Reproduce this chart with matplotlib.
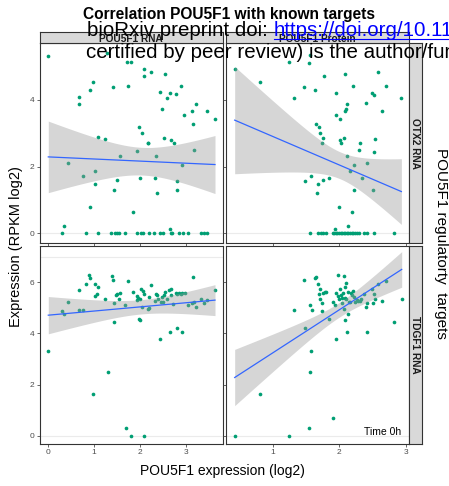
import numpy as np
import matplotlib
matplotlib.use("Agg")
import matplotlib.pyplot as plt
from matplotlib.lines import Line2D

plt.rcParams['font.family'] = ['Liberation Sans', 'DejaVu Sans']

# ---------------- data ----------------
col_labels = ["POU5F1 RNA", "POU5F1 Protein"]
row_labels = ["OTX2 RNA", "TDGF1 RNA"]

# top-left: OTX2 RNA vs POU5F1 RNA
tl_x = [0.0, 0.29, 0.35, 0.44, 0.66, 0.68, 0.75, 0.83, 0.90, 0.92, 0.97, 1.02, 1.03, 1.08, 1.09,
        1.24, 1.29, 1.38, 1.42, 1.43, 1.46, 1.50, 1.50, 1.55, 1.56, 1.67, 1.71, 1.74, 1.81, 1.86,
        1.93, 1.93, 1.98, 2.00, 2.02, 2.06, 2.05, 2.09, 2.09, 2.17, 2.18, 2.19, 2.24, 2.30, 2.34,
        2.36, 2.38, 2.44, 2.44, 2.49, 2.51, 2.52, 2.54, 2.60, 2.65, 2.66, 2.67, 2.70, 2.68, 2.74,
        2.78, 2.81, 2.82, 2.85, 2.90, 2.92, 2.95, 3.05, 2.96, 3.14, 3.17, 3.18, 3.23, 3.34, 3.40,
        3.46, 3.47, 3.64]
tl_y = [5.33, 0.0, 0.23, 2.11, 4.08, 3.88, 1.72, 0.01, 0.78, 4.31, 4.54, 1.88, 1.48, 0.0, 2.88,
        2.82, 5.42, 0.0, 4.39, 1.30, 0.0, 0.0, 1.61, 0.0, 2.32, 0.0, 5.13, 4.42, 5.15, 0.63,
        2.46, 0.0, 3.18, 1.65, 0.0, 0.0, 3.02, 4.92, 4.72, 2.70, 2.70, 0.0, 4.85, 0.0, 1.65,
        2.32, 1.20, 4.23, 0.0, 3.72, 0.0, 2.86, 4.77, 4.05, 4.20, 0.13, 0.0, 0.0, 2.80, 2.71,
        4.17, 1.58, 1.30, 0.0, 4.43, 2.06, 0.0, 0.0, 3.54, 3.67, 3.28, 2.51, 3.89, 0.0, 0.0,
        0.0, 3.67, 3.43]

# top-right: OTX2 RNA vs POU5F1 Protein
tr_x = [0.43, 0.815, 1.24, 1.325, 1.465, 1.485, 1.545, 1.56, 1.575, 1.63, 1.645, 1.66, 1.68,
        1.695, 1.705, 1.735, 1.75, 1.75, 1.775, 1.845, 1.935, 1.945, 1.955, 1.995, 2.01, 2.015,
        2.02, 2.075, 2.08, 2.09, 2.10, 2.11, 2.115, 2.13, 2.16, 2.195, 2.21, 2.215, 2.215, 2.29,
        2.305, 2.335, 2.395, 2.415, 2.485, 2.50, 2.515, 2.515, 2.535, 2.58, 2.64, 2.705, 2.93,
        1.555, 1.685, 1.72, 1.76, 1.80, 1.90, 1.92, 1.945, 1.97, 1.995, 2.02, 2.045, 2.07, 2.09,
        2.11, 2.135, 2.16, 2.185, 2.21, 2.235, 2.26, 2.30, 2.37, 2.41, 2.515, 2.815]
tr_y = [4.92, 4.54, 5.14, 4.07, 4.39, 1.57, 5.12, 5.35, 1.72, 4.30, 3.28, 1.20, 1.48,
        3.18, 3.02, 2.70, 2.86, 1.60, 4.72, 1.65, 0.13, 3.54, 4.22, 0.78, 3.43, 2.80,
        2.70, 2.87, 4.77, 3.67, 3.72, 3.88, 2.32, 0.23, 1.88, 0.63, 4.43, 1.31, 2.06, 2.51,
        2.70, 1.65, 3.90, 2.11, 4.20, 1.30, 2.45, 4.15, 2.82, 4.85, 3.67, 4.42, 4.05,
        0.0, 0.0, 0.0, 0.0, 0.0, 0.0, 0.0, 0.0, 0.0, 0.0, 0.0, 0.0, 0.0, 0.0,
        0.0, 0.0, 0.0, 0.0, 0.0, 0.0, 0.0, 0.0, 0.0, 0.0, 0.0, 0.0]

# bottom-left: TDGF1 RNA vs POU5F1 RNA
bl_x = [0.0, 0.29, 0.35, 0.44, 0.66, 0.68, 0.75, 0.83, 0.89, 0.92, 0.97, 1.02, 1.03, 1.07, 1.09,
        1.24, 1.31, 1.39, 1.42, 1.43, 1.43, 1.48, 1.51, 1.55, 1.57, 1.67, 1.70, 1.74, 1.81, 1.86,
        1.93, 1.94, 1.96, 1.98, 2.01, 2.00, 2.03, 2.04, 2.06, 2.09, 2.10, 2.17, 2.20, 2.19, 2.24,
        2.34, 2.36, 2.38, 2.39, 2.43, 2.45, 2.49, 2.51, 2.52, 2.55, 2.59, 2.63, 2.66, 2.68, 2.69,
        2.72, 2.79, 2.80, 2.82, 2.85, 2.89, 2.93, 2.92, 2.99, 3.05, 3.13, 3.17, 3.19, 3.23, 3.34,
        3.40, 3.46, 3.64]
bl_y = [3.33, 4.89, 4.76, 5.23, 4.92, 5.71, 4.92, 5.95, 6.30, 6.16, 1.63, 5.92, 5.47, 5.54, 5.82,
        5.36, 2.50, 6.23, 6.08, 5.18, 4.46, 5.50, 5.53, 5.33, 5.57, 5.10, 0.29, 6.05, 0.0, 5.61,
        5.47, 5.31, 5.37, 4.57, 4.53, 5.36, 5.75, 5.05, 5.66, 5.54, 0.0, 4.96, 5.01, 5.41, 5.90,
        5.27, 5.53, 5.50, 5.35, 3.80, 5.22, 5.44, 5.22, 5.50, 5.61, 5.35, 5.70, 4.04, 5.74, 5.50,
        5.14, 5.60, 4.20, 5.54, 5.60, 5.53, 4.07, 5.57, 5.60, 5.13, 5.18, 6.21, 5.24, 5.02, 5.35,
        5.18, 5.30, 5.71]

# bottom-right: TDGF1 RNA vs POU5F1 Protein
br_x = [0.43, 0.815, 1.24, 1.325, 1.465, 1.485, 1.545, 1.555, 1.56, 1.575, 1.585, 1.63, 1.65,
        1.675, 1.695, 1.705, 1.71, 1.735, 1.735, 1.755, 1.78, 1.805, 1.85, 1.90, 1.91, 1.93,
        1.945, 1.955, 1.975, 1.985, 2.0, 2.015, 2.025, 2.04, 2.045, 2.06, 2.065, 2.07, 2.08,
        2.085, 2.09, 2.10, 2.105, 2.11, 2.125, 2.135, 2.14, 2.16, 2.175, 2.19, 2.20, 2.215,
        2.235, 2.26, 2.28, 2.315, 2.33, 2.37, 2.395, 2.415, 2.41, 2.49, 2.51, 2.52, 2.53, 2.58,
        2.64, 2.705, 2.82, 2.935]
br_y = [0.0, 1.63, 0.0, 4.92, 6.07, 4.20, 0.29, 2.50, 5.10, 3.33, 4.92, 6.18, 6.22,
        5.92, 5.53, 5.75, 5.36, 5.18, 4.88, 5.57, 5.61, 5.61, 4.57, 0.70, 5.23, 5.10,
        5.57, 3.80, 5.47, 6.30, 5.33, 5.73, 5.50, 5.18, 5.37, 5.57, 4.96, 6.23, 5.83,
        4.53, 5.37, 5.96, 5.33, 4.04, 5.63, 4.76, 5.22, 5.24, 5.57, 5.50, 5.66, 5.44,
        5.22, 5.31, 5.27, 5.27, 5.33, 5.54, 5.02, 4.07, 5.18, 5.73, 5.18, 5.54, 5.35, 5.92,
        5.27, 6.05, 4.46, 5.35]

panel_data = [[(tl_x, tl_y), (tr_x, tr_y)], [(bl_x, bl_y), (br_x, br_y)]]

x_ticks = [[0, 1, 2, 3], [1, 2, 3]]
y_ticks = [[0, 2, 4], [0, 2, 4, 6]]
x_lims = [(-0.192, 3.808), (0.300, 3.049)]
y_lims = [(-0.28, 5.70), (-0.34, 7.42)]

title = "Correlation POU5F1 with known targets"
xlabel = "POU5F1 expression (log2)"
ylabel = "Expression (RPKM log2)"
right_label = "POU5F1 regulatorty  targets"
annotation = "Time 0h"
wm_line1 = "bioRxiv preprint doi: "
wm_link = "https://doi.org/10.1101/"
wm_line2 = "certified by peer review) is the author/funder"

# ---------------- style ----------------
W, H = 449, 486
DPI = 100
point_color = "#009E73"
line_color = "#3366FF"
border = "#333333"
strip_fill = "#D9D9D9"
tick_color = "#4D4D4D"

fig = plt.figure(figsize=(W / DPI, H / DPI), dpi=DPI)

def fx(px):
    return px / W

def fy(py):
    return 1 - py / H

col_px = [(39.5, 222.7), (226.0, 409.3)]
row_px = [(43.3, 242.7), (246.0, 444.3)]
strip_top = (32.3, 43.3)
strip_right = (409.3, 421.7)

T_CRIT = 1.99

for r in range(2):
    for c in range(2):
        x0, x1 = col_px[c]
        y0, y1 = row_px[r]
        ax = fig.add_axes([fx(x0), fy(y1), fx(x1) - fx(x0), fy(y0) - fy(y1)])
        xs, ys = panel_data[r][c]
        xs = np.asarray(xs, float)
        ys = np.asarray(ys, float)
        ax.set_xlim(*x_lims[c])
        ax.set_ylim(*y_lims[r])
        ax.axhline(0, color="#EBEBEB", lw=0.8, zorder=0)
        if r == 1 and c == 0:
            ax.axhline(7, color="#EBEBEB", lw=0.8, zorder=0)
        ax.scatter(xs, ys, s=7, color=point_color, linewidths=0, zorder=2)
        n = len(xs)
        A = np.vstack([np.ones(n), xs]).T
        coef, *_ = np.linalg.lstsq(A, ys, rcond=None)
        resid = ys - A @ coef
        s2 = resid @ resid / (n - 2)
        gx = np.linspace(xs.min(), xs.max(), 80)
        xm = xs.mean()
        sxx = ((xs - xm) ** 2).sum()
        fit = coef[0] + coef[1] * gx
        se = np.sqrt(s2 * (1.0 / n + (gx - xm) ** 2 / sxx))
        ax.fill_between(gx, fit - T_CRIT * se, fit + T_CRIT * se, color="#999999",
                        alpha=0.4, linewidth=0, zorder=3)
        ax.plot(gx, fit, color=line_color, lw=0.9, zorder=4)

        for sp in ax.spines.values():
            sp.set_color(border)
            sp.set_linewidth(0.8)
        ax.tick_params(length=2, width=0.6, color=tick_color, labelcolor=tick_color,
                       labelsize=6, pad=1.5)
        ax.set_yticks(y_ticks[r])
        ax.set_xticks(x_ticks[c])
        if c == 1:
            ax.set_yticklabels([])
        if r == 0:
            ax.set_xticklabels([])
        if r == 1 and c == 1:
            ax.text(0.955, 0.035, annotation, transform=ax.transAxes, ha="right",
                    va="bottom", fontsize=7.5, color="black")

# strips
for c in range(2):
    x0, x1 = col_px[c]
    sax = fig.add_axes([fx(x0), fy(strip_top[1]), fx(x1) - fx(x0), fy(strip_top[0]) - fy(strip_top[1])])
    sax.set_xticks([]); sax.set_yticks([])
    sax.set_facecolor(strip_fill)
    for sp in sax.spines.values():
        sp.set_color(border); sp.set_linewidth(0.8)
    sax.text(0.5, 0.42, col_labels[c], ha="center", va="center", fontsize=7.3,
             fontweight="bold", color="#1A1A1A", transform=sax.transAxes)
for r in range(2):
    y0, y1 = row_px[r]
    sax = fig.add_axes([fx(strip_right[0]), fy(y1), fx(strip_right[1]) - fx(strip_right[0]), fy(y0) - fy(y1)])
    sax.set_xticks([]); sax.set_yticks([])
    sax.set_facecolor(strip_fill)
    for sp in sax.spines.values():
        sp.set_color(border); sp.set_linewidth(0.8)
    sax.text(0.5, 0.5, row_labels[r], ha="center", va="center", fontsize=7.3,
             fontweight="bold", color="#1A1A1A", rotation=-90, transform=sax.transAxes)

# titles and labels
fig.text(fx(229), fy(14), title, ha="center", va="center", fontsize=11.2, fontweight="bold")
fig.text(fx(222), fy(471), xlabel, ha="center", va="center", fontsize=10)
fig.text(fx(16), fy(246.5), ylabel, ha="center", va="center", fontsize=10.5, rotation=90)
fig.text(fx(441), fy(243), right_label, ha="center", va="center", fontsize=11, rotation=-90)

# bioRxiv watermark overlay
wm1 = fig.text(fx(87), fy(36), wm_line1, ha="left", va="baseline",
               fontsize=14.8, color="black")
fig.canvas.draw()
bb = wm1.get_window_extent()
link_x = bb.x1 / W
fig.text(link_x, fy(36), wm_link, ha="left", va="baseline",
         fontsize=14.8, color="#0000FF")
fig.add_artist(Line2D([link_x, 1.0], [fy(39.5), fy(39.5)], color="#0000FF", lw=0.8,
                      transform=fig.transFigure))
fig.text(fx(86), fy(57.5), wm_line2, ha="left",
         va="baseline", fontsize=14.8, color="black")

fig.savefig("out.png", dpi=DPI)
